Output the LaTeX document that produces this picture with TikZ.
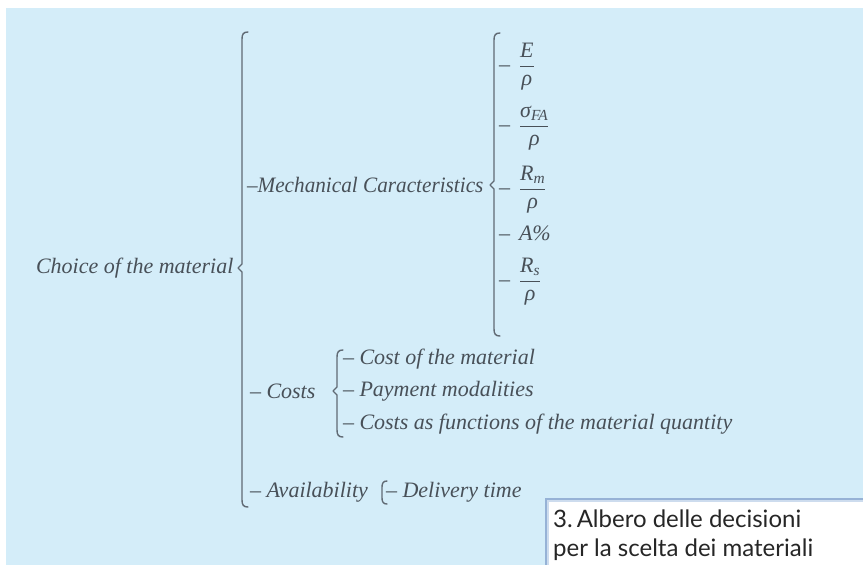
\documentclass[tikz,border=0pt]{standalone}
\usepackage{amsmath}
\usepackage{fontspec}
\setmainfont{Liberation Serif}
\newfontfamily\capfont{Lato}
\definecolor{bgblue}{RGB}{212,237,249}
\definecolor{ink}{RGB}{72,80,88}
\definecolor{lineink}{RGB}{96,106,116}
\definecolor{boxline}{RGB}{150,178,214}
\definecolor{boxline2}{RGB}{205,220,238}
\newcommand\mybrace[4]{%
  \draw[brk] (#1+6,#2) .. controls (#1+1.5,#2) and (#1,#2+2) .. (#1,#2+7) -- (#1,#3-4) -- (#1-4,#3) -- (#1,#3+4) -- (#1,#4-7) .. controls (#1,#4-2) and (#1+1.5,#4) .. (#1+6,#4);}
\newcommand\mybracket[3]{%
  \draw[brk] (#1+5,#2) .. controls (#1+1.5,#2) and (#1,#2+2) .. (#1,#2+6) -- (#1,#3-6) .. controls (#1,#3-2) and (#1+1.5,#3) .. (#1+5,#3);}
\newcommand\fr[2]{–\hspace{9pt}$\dfrac{#1}{#2}$}
\tikzset{
  txt/.style={inner sep=0pt, outer sep=0pt, text=ink, font=\fontsize{22}{26}\selectfont\itshape},
  brk/.style={draw=lineink, line width=1.4pt, line join=round, line cap=round},
  captxt/.style={inner sep=0pt, text=black!85, align=left, font=\capfont\fontsize{24}{28.5}\selectfont}
}
\begin{document}
\begin{tikzpicture}[x=1pt,y=-1pt]
\useasboundingbox (0,0) rectangle (863,565);
\fill[white] (0,0) rectangle (863,565);
\fill[bgblue] (6,8) rectangle (863,565);
% root
\node[txt, anchor=west] (choice) at (36,268) {Choice of the material};
\mybrace{242}{32}{268}{507}
% mechanical
\node[txt, anchor=west, xscale=0.965, transform shape] (mech) at (247,185) {–Mechanical Caracteristics};
\mybrace{494}{33}{185}{336}
\node[txt, anchor=west] (m1) at (499,67) {\fr{\text{E}}{\text{ρ}}};
\node[txt, anchor=west] (m2) at (499,128) {\fr{\text{σ}_{\text{FA}}}{\text{ρ}}};
\node[txt, anchor=west] (m3) at (499,190) {\fr{\text{R}_{\text{m}}}{\text{ρ}}};
\node[txt, anchor=west] (m4) at (499,233) {–\hspace{9pt}A\%};
\node[txt, anchor=west] (m5) at (499,282) {\fr{\text{R}_{\text{s}}}{\text{ρ}}};
% costs
\node[txt, anchor=west] (costs) at (250,391) {– Costs};
\mybrace{337}{350}{391}{437}
\node[txt, anchor=west] (c1) at (343,359) {– Cost of the material};
\node[txt, anchor=west] (c2) at (343,391) {– Payment modalities};
\node[txt, anchor=west] (c3) at (343,424) {– Costs as functions of the material quantity};
% availability
\node[txt, anchor=west] (avail) at (250,492) {– Availability};
\mybracket{382}{481}{504}
\node[txt, anchor=west] (a1) at (386,492) {– Delivery time};
% caption box
\fill[white] (545,498) rectangle (863,565);
\draw[boxline, line width=1.6pt] (545.8,565) -- (545.8,498.8) -- (863,498.8);
\draw[boxline2, line width=1.2pt] (548,565) -- (548,501) -- (863,501);
\node[captxt, anchor=west] (cap) at (553,535) {3.\,Albero delle decisioni\\per la scelta dei materiali};
\end{tikzpicture}
\end{document}
